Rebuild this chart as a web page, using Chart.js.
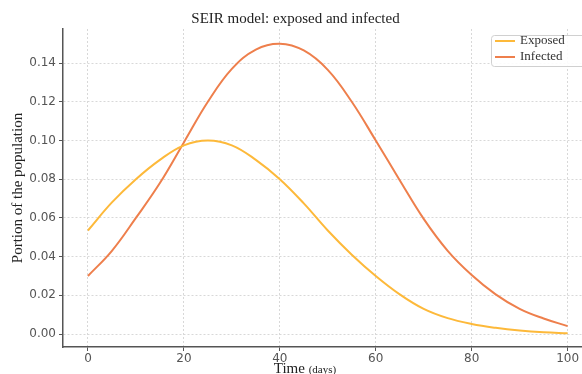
<!DOCTYPE html>
<html>
<head>
<meta charset="utf-8">
<script src="https://cdn.jsdelivr.net/npm/chart.js@4"></script>
<style>
  html, body { margin: 0; padding: 0; background: #fff; }
  #wrap { width: 582px; height: 374px; }
</style>
</head>
<body>
<div id="wrap"><canvas id="chart"></canvas></div>
<script>
const days = [0, 5, 10, 15, 20, 25, 30, 35, 40, 45, 50, 55, 60, 65, 70, 75, 80, 85, 90, 95, 100];
const exposed = [0.0535, 0.068, 0.080, 0.090, 0.0975, 0.100, 0.0975, 0.090, 0.080, 0.0675, 0.0535, 0.041, 0.030, 0.0205, 0.013, 0.0082, 0.0052, 0.0032, 0.0018, 0.0009, 0.0004];
const infected = [0.030, 0.043, 0.060, 0.078, 0.099, 0.120, 0.137, 0.147, 0.150, 0.1465, 0.1365, 0.120, 0.100, 0.0795, 0.0595, 0.043, 0.0305, 0.0205, 0.013, 0.008, 0.0041];
const xTicks = [0, 20, 40, 60, 80, 100];
const yTicks = [0, 0.02, 0.04, 0.06, 0.08, 0.10, 0.12, 0.14];

const serif = '"Liberation Serif", "DejaVu Serif", serif';
const sans = '"DejaVu Sans", sans-serif';

function toPoints(values) {
    return days.map((d, i) => ({ x: d, y: values[i] }));
}

// legend box drawn inside the plot, top right
const boxLegend = {
    id: 'boxLegend',
    afterDraw(chart) {
        const ctx = chart.ctx;
        const left = 491, top = 35, w = 95, h = 31;
        ctx.save();
        ctx.fillStyle = 'rgba(255,255,255,0.9)';
        ctx.strokeStyle = '#d0d0d0';
        ctx.lineWidth = 1;
        ctx.beginPath();
        ctx.roundRect(left + 0.5, top + 0.5, w, h, 3);
        ctx.fill();
        ctx.stroke();
        ctx.font = '13px ' + serif;
        ctx.textBaseline = 'middle';
        chart.data.datasets.forEach((ds, i) => {
            const y = top + 6 + i * 16;
            ctx.strokeStyle = ds.borderColor;
            ctx.lineWidth = 2;
            ctx.beginPath();
            ctx.moveTo(495, y);
            ctx.lineTo(515, y);
            ctx.stroke();
            ctx.fillStyle = '#333';
            ctx.fillText(ds.label, 520, y);
        });
        ctx.restore();
    }
};

// "Time (days)" with the unit in a smaller size
const xTitle = {
    id: 'xTitle',
    afterDraw(chart) {
        const ctx = chart.ctx;
        ctx.save();
        ctx.fillStyle = '#222';
        ctx.textBaseline = 'alphabetic';
        ctx.font = '15px ' + serif;
        const w1 = ctx.measureText('Time ').width;
        ctx.font = '11px ' + serif;
        const w2 = ctx.measureText('(days)').width;
        const x0 = 305 - (w1 + w2) / 2;
        ctx.font = '15px ' + serif;
        ctx.fillText('Time ', x0, 373);
        ctx.font = '11px ' + serif;
        ctx.fillText('(days)', x0 + w1, 373);
        ctx.restore();
    }
};

new Chart(document.getElementById('chart'), {
    type: 'line',
    data: {
        datasets: [
            {
                label: 'Exposed',
                data: toPoints(exposed),
                borderColor: '#fdb93a',
                borderWidth: 2,
                pointRadius: 0,
                tension: 0.4,
                fill: false,
            },
            {
                label: 'Infected',
                data: toPoints(infected),
                borderColor: '#ee7f4c',
                borderWidth: 2,
                pointRadius: 0,
                tension: 0.4,
                fill: false,
            },
        ],
    },
    options: {
        responsive: true,
        maintainAspectRatio: false,
        animation: false,
        layout: { padding: { left: 9, right: 0, top: 0, bottom: 0 } },
        plugins: {
            legend: { display: false },
            tooltip: { enabled: false },
            title: {
                display: true,
                text: 'SEIR model: exposed and infected',
                color: '#222',
                font: { family: serif, size: 15, weight: 'normal' },
                padding: { top: 10, bottom: 1 },
            },
        },
        scales: {
            x: {
                type: 'linear',
                min: -5.2,
                max: 103,
                afterBuildTicks: (scale) => { scale.ticks = xTicks.map(v => ({ value: v })); },
                afterFit: (scale) => { scale.height = 27; },
                ticks: { color: '#555', font: { family: sans, size: 12 }, padding: 1, maxRotation: 0 },
                grid: { color: '#d8d8d8', tickColor: '#555', tickLength: 4 },
                border: { color: '#555', width: 1.5, dash: [2, 2] },
            },
            y: {
                min: -0.0067,
                max: 0.1576,
                afterBuildTicks: (scale) => { scale.ticks = yTicks.map(v => ({ value: v })); },
                afterFit: (scale) => { scale.width = 54; },
                ticks: {
                    color: '#555',
                    font: { family: sans, size: 12 },
                    padding: 3,
                    callback: (v) => v.toFixed(2),
                },
                grid: { color: '#d8d8d8', tickColor: '#555', tickLength: 4 },
                border: { color: '#555', width: 1.5, dash: [2, 2] },
                title: {
                    display: true,
                    text: 'Portion of the population',
                    color: '#222',
                    font: { family: serif, size: 15, lineHeight: 1.2 },
                    padding: 0,
                },
            },
        },
    },
    plugins: [boxLegend, xTitle],
});
</script>
</body>
</html>
